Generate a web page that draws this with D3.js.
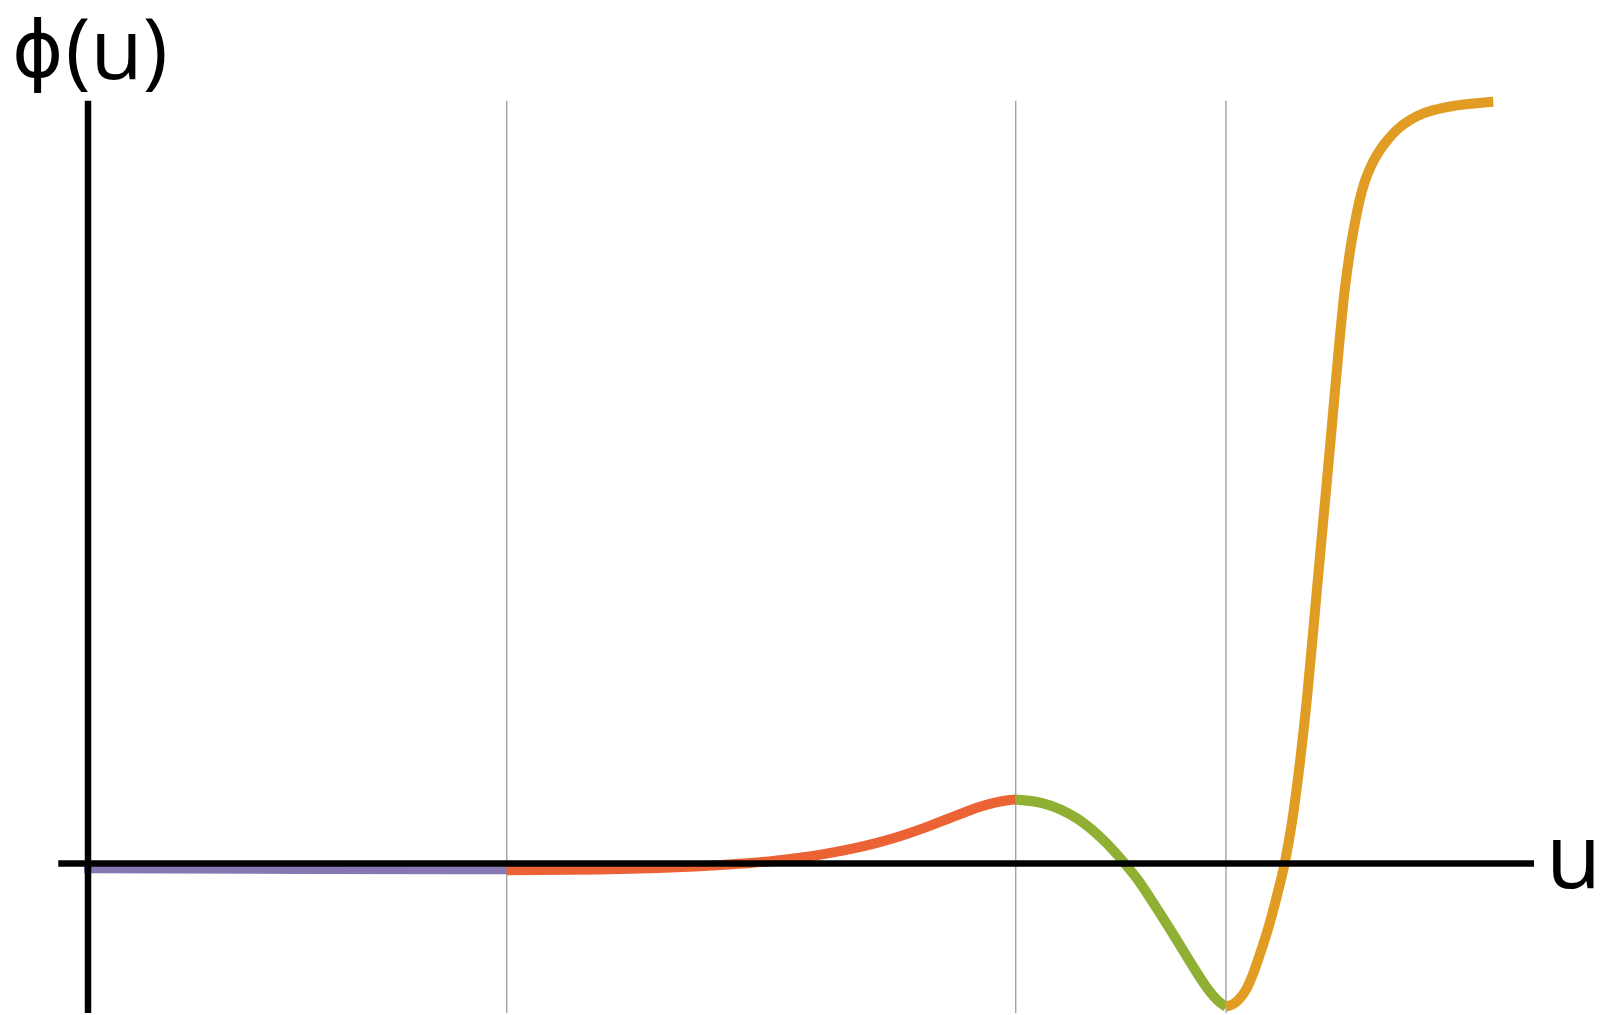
<!DOCTYPE html>
<html>
<head>
<meta charset="utf-8">
<script src="https://cdn.jsdelivr.net/npm/d3@7"></script>
<style>
  html, body { margin: 0; padding: 0; background: #fff; }
  svg { display: block; }
  text { font-family: "Open Sans", "DejaVu Sans", sans-serif; fill: #000; }
</style>
</head>
<body>
<svg id="chart" width="1602" height="1015"></svg>
<script>
// Piecewise potential φ(u), one coloured segment per region: [u, φ]
const purpleSeg = [[-0.04, -0.058], [2.12, -0.065], [4.187, -0.068]];
const redSeg = [[4.187, -0.068], [5.12, -0.060], [5.62, -0.048], [6.12, -0.028], [6.37, -0.0135],
  [6.62, 0.0045], [6.87, 0.028], [7.12, 0.058], [7.37, 0.096], [7.62, 0.1435], [7.87, 0.202],
  [8.12, 0.273], [8.37, 0.359], [8.62, 0.455], [8.77, 0.513], [8.92, 0.567], [9.07, 0.609],
  [9.20, 0.632], [9.277, 0.639]];
const greenSeg = [[9.277, 0.639], [9.553, 0.602], [9.887, 0.452], [10.153, 0.235], [10.353, 0.018],
  [10.487, -0.148], [10.687, -0.448], [10.887, -0.765], [11.053, -1.035], [11.22, -1.283],
  [11.32, -1.39], [11.38, -1.432]];
const orangeSeg = [[11.38, -1.432], [11.453, -1.405], [11.52, -1.348], [11.587, -1.25], [11.653, -1.098],
  [11.72, -0.905], [11.787, -0.698], [11.887, -0.332], [11.97, 0.018], [12.04, 0.415], [12.11, 0.935],
  [12.193, 1.685], [12.287, 2.715], [12.377, 3.695], [12.42, 4.165], [12.467, 4.695], [12.517, 5.245],
  [12.567, 5.735], [12.617, 6.105], [12.667, 6.395], [12.714, 6.625], [12.76, 6.795], [12.84, 6.995],
  [12.92, 7.135], [13.0, 7.24], [13.087, 7.335], [13.22, 7.435], [13.353, 7.502], [13.50, 7.545],
  [13.653, 7.575], [13.85, 7.60], [14.053, 7.618]];

const segments = [
  { name: "region1", points: purpleSeg, color: "#8778B3" },
  { name: "region2", points: redSeg, color: "#EB6235" },
  { name: "region3", points: greenSeg, color: "#8FB032" },
  { name: "region4", points: orangeSeg, color: "#E19C24" }
];

// Region boundaries (vertical guide lines)
const boundaries = [4.187, 9.277, 11.38];

// Axis extents
const uExtent = [-0.297, 14.46];
const phiExtent = [-1.495, 7.628];

const axisLabelY = ["ϕ", "(u)"];
const axisLabelX = "u";

const svg = d3.select("#chart");

const x = d3.scaleLinear().domain([0, 14.05]).range([88, 1493]);
const y = d3.scaleLinear().domain([0, 7.62]).range([863.5, 101.5]);

// Vertical guide lines
svg.append("g").selectAll("line").data(boundaries).join("line")
  .attr("x1", d => x(d)).attr("x2", d => x(d))
  .attr("y1", y(phiExtent[1])).attr("y2", y(phiExtent[0]))
  .attr("stroke", "#a3a3a3").attr("stroke-width", 1.4);

const line = d3.line().x(d => x(d[0])).y(d => y(d[1])).curve(d3.curveMonotoneX);

// Curve segments
svg.append("g").selectAll("path").data(segments).join("path")
  .attr("d", d => line(d.points))
  .attr("fill", "none")
  .attr("stroke", d => d.color)
  .attr("stroke-width", d => d.name === "region1" ? 8 : 10)
  .attr("stroke-linecap", "butt")
  .attr("stroke-linejoin", "round");

// Axes
svg.append("line")
  .attr("x1", x(uExtent[0])).attr("x2", x(uExtent[1]))
  .attr("y1", y(0)).attr("y2", y(0))
  .attr("stroke", "#000").attr("stroke-width", 6.5);
svg.append("line")
  .attr("x1", x(0)).attr("x2", x(0))
  .attr("y1", y(phiExtent[1])).attr("y2", y(phiExtent[0]))
  .attr("stroke", "#000").attr("stroke-width", 6.5);

// Axis labels
const yLabel = svg.append("text").attr("x", 12).attr("y", 79).attr("font-size", 85);
yLabel.append("tspan").attr("font-size", 78).attr("dy", -2).text(axisLabelY[0]);
yLabel.append("tspan").attr("dy", 2).attr("dx", 2).text(axisLabelY[1]);
svg.append("text").attr("x", 1546).attr("y", 888)
  .attr("font-size", 90).text(axisLabelX);
</script>
</body>
</html>
